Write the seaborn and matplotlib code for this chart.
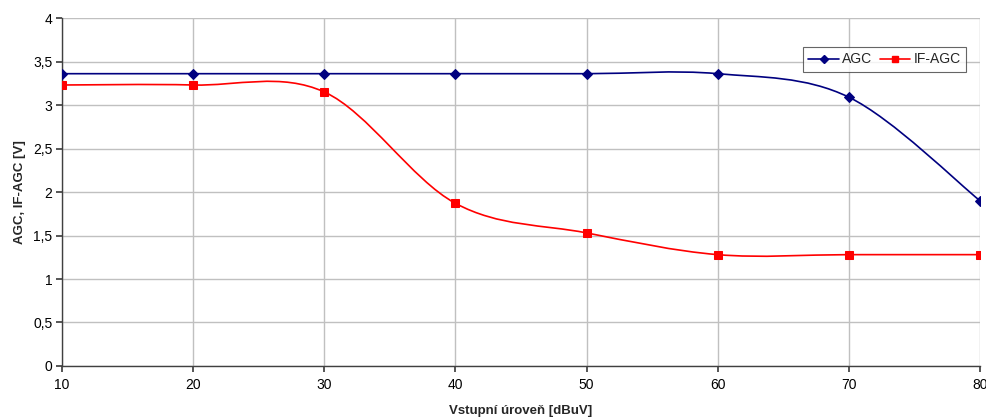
import numpy as np
import pandas as pd
import seaborn as sns
import matplotlib.pyplot as plt
from matplotlib.path import Path
from matplotlib.patches import PathPatch
from matplotlib.lines import Line2D

# data
levels = [10, 20, 30, 40, 50, 60, 70, 80]
agc = [3.36, 3.36, 3.36, 3.36, 3.36, 3.36, 3.09, 1.90]
if_agc = [3.23, 3.23, 3.15, 1.87, 1.53, 1.28, 1.28, 1.28]
x_ticks = [10, 20, 30, 40, 50, 60, 70, 80]
y_ticks = [0, 0.5, 1, 1.5, 2, 2.5, 3, 3.5, 4]
y_labels = ["0", "0,5", "1", "1,5", "2", "2,5", "3", "3,5", "4"]

sns.set_theme(style="whitegrid")
plt.rcParams["font.family"] = ["Liberation Sans", "DejaVu Sans"]


def smooth_path(xs, ys):
    # excel-like smoothed line: catmull-rom segments as cubic bezier
    p = np.column_stack([xs, ys]).astype(float)
    verts = [p[0]]
    codes = [Path.MOVETO]
    n = len(p)
    for i in range(n - 1):
        p0 = p[i - 1] if i > 0 else p[i]
        p3 = p[i + 2] if i + 2 < n else p[i + 1]
        c1 = p[i] + (p[i + 1] - p0) / 6
        c2 = p[i + 1] - (p3 - p[i]) / 6
        verts += [c1, c2, p[i + 1]]
        codes += [Path.CURVE4] * 3
    return Path(verts, codes)


df = pd.DataFrame({"level": levels, "AGC": agc, "IF-AGC": if_agc})

fig = plt.figure(figsize=(9.86, 4.19), dpi=100)
ax = fig.add_axes([0.0629, 0.1265, 0.931, 0.8305])

series = [("AGC", "#000080", "D", 5), ("IF-AGC", "#ff0000", "s", 5.5)]
for name, color, marker, ms in series:
    ax.add_patch(PathPatch(smooth_path(df["level"], df[name]), fill=False,
                           edgecolor=color, lw=1.2, zorder=3))
    sns.lineplot(data=df, x="level", y=name, ax=ax, color=color, marker=marker,
                 markersize=ms, markeredgecolor=color, linestyle="", zorder=4)

ax.set_xlim(10, 80)
ax.set_ylim(0, 4)
ax.set_xticks(x_ticks)
ax.set_yticks(y_ticks)
ax.set_yticklabels(y_labels)
ax.grid(True, color="#c0c0c0", lw=1)
ax.set_facecolor("white")
for s in ["top", "right"]:
    ax.spines[s].set_visible(False)
for s in ["left", "bottom"]:
    ax.spines[s].set_color("#404040")
    ax.spines[s].set_linewidth(1)
ax.tick_params(axis="y", left=True, length=4, color="#404040", labelsize=10,
               labelcolor="black", pad=3)
ax.tick_params(axis="x", bottom=True, length=4, color="#404040", labelsize=10,
               labelcolor="black", pad=5)

ax.set_xlabel("Vstupní úroveň [dBuV]", fontsize=9.5, fontweight="bold", labelpad=9)
ax.set_ylabel("AGC, IF-AGC [V]", fontsize=9.5, fontweight="bold", labelpad=5)

handles = [Line2D([], [], color=c, marker=m, markersize=ms - 0.5, lw=1.2)
           for _, c, m, ms in series]
leg = ax.legend(handles, [s[0] for s in series], loc="upper right",
                bbox_to_anchor=(0.985, 0.917), ncol=2, fontsize=10, frameon=True,
                fancybox=False, handlelength=2.2, columnspacing=0.5,
                handletextpad=0.25, borderpad=0.4, borderaxespad=0)
leg.get_frame().set_edgecolor("#404040")
leg.get_frame().set_linewidth(0.8)

fig.savefig("out.png", dpi=100)
